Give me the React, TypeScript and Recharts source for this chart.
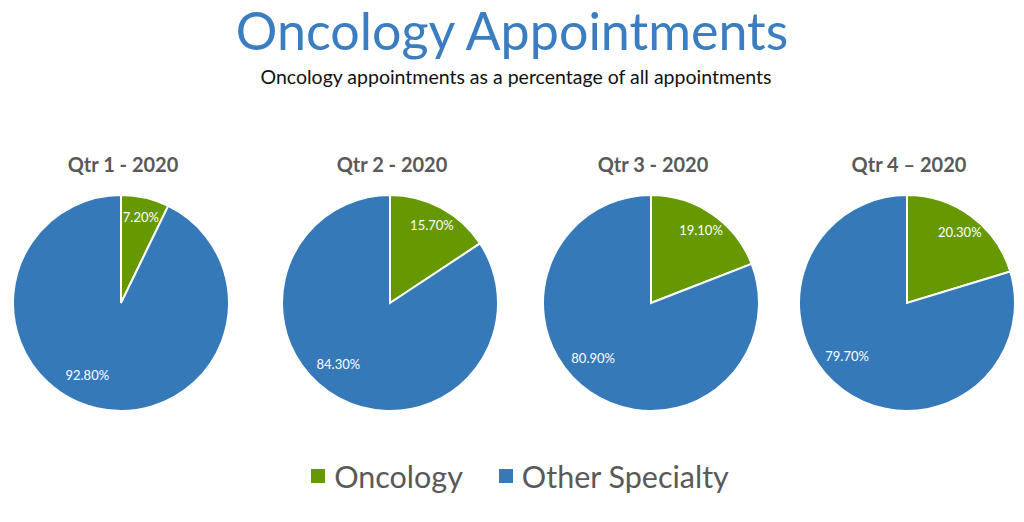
import { PieChart, Pie, Cell } from 'recharts';

// Datos
const quarters = ['Qtr 1 - 2020', 'Qtr 2 - 2020', 'Qtr 3 - 2020', 'Qtr 4 – 2020'];
const seriesNames = ['Oncology', 'Other Specialty'];
const oncology = [7.2, 15.7, 19.1, 20.3];
const otherSpecialty = [92.8, 84.3, 80.9, 79.7];

const COLORS = ['#669900', '#3579b8'];
const FONT = 'Lato, "Open Sans", sans-serif';
const CENTERS_X = [121, 390, 651, 907];
const CY = 303;
const R = 108;
const RAD = Math.PI / 180;

// eslint-disable-next-line @typescript-eslint/no-explicit-any
function renderLabel({ cx, cy, midAngle, outerRadius, value, index }: any) {
  const r = outerRadius * (index === 0 ? 0.82 : 0.74);
  const shift = index === 0 ? 0 : -12;
  const a = -(midAngle + shift) * RAD;
  const x = cx + r * Math.cos(a);
  const y = cy + r * Math.sin(a);
  return (
    <text x={x} y={y} fill="#ffffff" fontSize={13} fontFamily={FONT} textAnchor="middle" dominantBaseline="central">
      {value.toFixed(2)}%
    </text>
  );
}

export default function App() {
  return (
    <div style={{ position: 'absolute', left: 0, top: 0, width: 1024, height: 522, background: '#fff', fontFamily: FONT, overflow: 'hidden' }}>
      <div style={{ position: 'absolute', top: 4, left: 0, width: 1024, textAlign: 'center', fontSize: 52, lineHeight: '52px', color: '#3a7dc0', whiteSpace: 'nowrap' }}>
        Oncology Appointments
      </div>
      <div style={{ position: 'absolute', top: 65, left: 0, width: 1024, paddingLeft: 8, boxSizing: 'border-box', textAlign: 'center', fontSize: 19.5, color: '#111', whiteSpace: 'nowrap' }}>
        Oncology appointments as a percentage of all appointments
      </div>
      {quarters.map((q, i) => (
        <div key={q} style={{ position: 'absolute', top: 152, left: CENTERS_X[i] - 98, width: 200, textAlign: 'center', fontSize: 20, fontWeight: 700, color: '#595959' }}>
          {q}
        </div>
      ))}
      <div style={{ position: 'absolute', top: 0, left: 0 }}>
        <PieChart width={1024} height={522} margin={{ top: 0, right: 0, bottom: 0, left: 0 }}>
          {quarters.map((q, i) => (
            <Pie
              key={q}
              data={[
                { name: seriesNames[0], value: oncology[i] },
                { name: seriesNames[1], value: otherSpecialty[i] },
              ]}
              dataKey="value"
              cx={CENTERS_X[i]}
              cy={CY}
              outerRadius={R}
              startAngle={90}
              endAngle={-270}
              stroke="#ffffff"
              strokeWidth={2}
              label={renderLabel}
              labelLine={false}
              isAnimationActive={false}
            >
              {COLORS.map((c) => <Cell key={c} fill={c} />)}
            </Pie>
          ))}
        </PieChart>
      </div>
      <div style={{ position: 'absolute', top: 458, left: 0, width: 1024, paddingLeft: 16, boxSizing: 'border-box', display: 'flex', justifyContent: 'center', gap: 36, fontSize: 30.5, color: '#595959' }}>
        {seriesNames.map((n, i) => (
          <div key={n} style={{ display: 'flex', alignItems: 'center' }}>
            <span style={{ display: 'inline-block', width: 14, height: 14, background: COLORS[i], marginRight: 9 }} />
            <span>{n}</span>
          </div>
        ))}
      </div>
    </div>
  );
}
